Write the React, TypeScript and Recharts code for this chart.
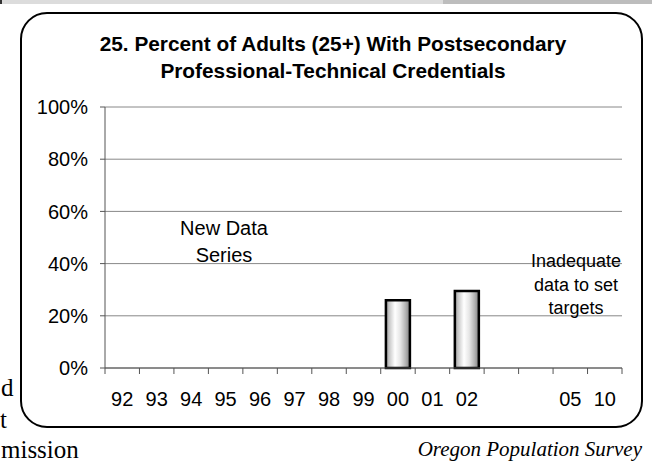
import React from "react";
import { BarChart, Bar, XAxis, YAxis, CartesianGrid } from "recharts";

const categories = ["92", "93", "94", "95", "96", "97", "98", "99", "00", "01", "02", "03", "04", "05", "10"];
const tickLabels = ["92", "93", "94", "95", "96", "97", "98", "99", "00", "01", "02", "", "", "05", "10"];
const percentValues: (number | null)[] = [null, null, null, null, null, null, null, null, 26, null, 29.5, null, null, null, null];
const yTicks = [0, 20, 40, 60, 80, 100];
const titleLines = ["25. Percent of Adults (25+) With Postsecondary", "Professional-Technical Credentials"];
const noteLeft = ["New Data", "Series"];
const noteRight = ["Inadequate", "data to set", "targets"];
const sourceText = "Oregon Population Survey";
const pageFragments = ["d", "t", "mission"];

const data = categories.map((c, i) => ({ cat: c, label: tickLabels[i], value: percentValues[i] }));

const SANS = "'Liberation Sans', Arial, sans-serif";
const SERIF = "'Liberation Serif', 'Times New Roman', serif";

const EdgeTick = (props: any) => {
  const { x, y, payload, index, visibleTicksCount } = props;
  const off = payload.offset || 0;
  const last = index === visibleTicksCount - 1;
  const label = tickLabels[categories.indexOf(payload.value)] ?? "";
  return (
    <g>
      <line x1={x - off} y1={y} x2={x - off} y2={y + 6} stroke="#555" strokeWidth={1} />
      {last && <line x1={x + off} y1={y} x2={x + off} y2={y + 6} stroke="#555" strokeWidth={1} />}
      <text x={x} y={y + 38} textAnchor="middle" fontSize={20} fontFamily={SANS} fill="#000">
        {label}
      </text>
    </g>
  );
};

export default function App() {
  return (
    <div style={{ position: "absolute", left: 0, top: 0, width: 652, height: 463, background: "#fff", overflow: "hidden" }}>
      <div style={{ position: "absolute", left: 0, top: 0 }}>
        <BarChart
          width={652}
          height={463}
          data={data}
          margin={{ top: 107, right: 30, left: 20, bottom: 0 }}
          barCategoryGap="15%"
        >
          <defs>
            <linearGradient id="barGrad" x1="0" y1="0" x2="1" y2="0">
              <stop offset="0%" stopColor="#8c8c8c" />
              <stop offset="12%" stopColor="#c4c4c4" />
              <stop offset="38%" stopColor="#ffffff" />
              <stop offset="60%" stopColor="#e6e6e6" />
              <stop offset="82%" stopColor="#b4b4b4" />
              <stop offset="100%" stopColor="#808080" />
            </linearGradient>
          </defs>
          <CartesianGrid vertical={false} stroke="#888" strokeWidth={1} />
          <XAxis
            dataKey="cat"
            height={95}
            tickSize={0}
            tickMargin={0}
            tickLine={false}
            axisLine={{ stroke: "#555", strokeWidth: 1 }}
            interval={0}
            tick={<EdgeTick />}
          />
          <YAxis
            domain={[0, 100]}
            ticks={yTicks}
            interval={0}
            width={85}
            tickSize={5}
            tickMargin={12}
            tickFormatter={(v: number) => `${v}%`}
            axisLine={{ stroke: "#555", strokeWidth: 1 }}
            tickLine={{ stroke: "#555", strokeWidth: 1 }}
            tick={{ fill: "#000", fontSize: 20, fontFamily: SANS }}
          />
          <Bar dataKey="value" fill="url(#barGrad)" stroke="#000" strokeWidth={2.5} isAnimationActive={false} />
        </BarChart>
      </div>
      <svg width={652} height={463} style={{ position: "absolute", left: 0, top: 0, pointerEvents: "none" }}>
        <rect x={0} y={0} width={443} height={4} fill="#dcdcdc" />
        <rect x={443} y={0} width={209} height={4} fill="#bdbdbd" />
        <rect x={0} y={0} width={2} height={4} fill="#333" />
        <rect x={21} y={13} width={621} height={414} rx={26} ry={26} fill="none" stroke="#000" strokeWidth={2} />
        <text x={333} y={51} textAnchor="middle" fontSize={20.8} fontWeight="bold" fontFamily={SANS} fill="#000">
          {titleLines[0]}
        </text>
        <text x={333} y={78} textAnchor="middle" fontSize={20.8} fontWeight="bold" fontFamily={SANS} fill="#000">
          {titleLines[1]}
        </text>
        {noteLeft.map((t, i) => (
          <text key={t} x={224} y={235 + i * 27} textAnchor="middle" fontSize={20} fontFamily={SANS} fill="#000">
            {t}
          </text>
        ))}
        {noteRight.map((t, i) => (
          <text key={t} x={576} y={267 + i * 23.5} textAnchor="middle" fontSize={18} fontFamily={SANS} fill="#000">
            {t}
          </text>
        ))}
        <text x={1} y={396} fontSize={25} fontFamily={SERIF} fill="#000">{pageFragments[0]}</text>
        <text x={0} y={428} fontSize={25} fontFamily={SERIF} fill="#000">{pageFragments[1]}</text>
        <text x={1} y={458} fontSize={25} fontFamily={SERIF} fill="#000">{pageFragments[2]}</text>
        <text x={642} y={456} textAnchor="end" fontSize={21} fontStyle="italic" fontFamily={SERIF} fill="#000">
          {sourceText}
        </text>
      </svg>
    </div>
  );
}
